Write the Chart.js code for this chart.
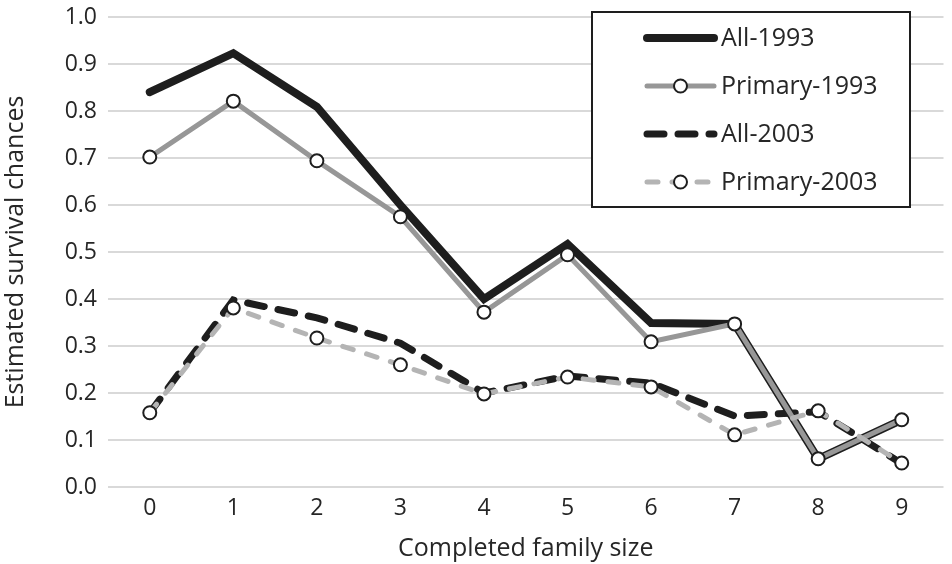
<!DOCTYPE html>
<html>
<head>
<meta charset="utf-8">
<script src="https://cdn.jsdelivr.net/npm/chart.js@4"></script>
<style>
html,body{margin:0;padding:0;background:#fff;}
#wrap{width:952px;height:564px;position:relative;}
</style>
</head>
<body>
<div id="wrap"><canvas id="c" width="952" height="564"></canvas></div>
<script>
const categories = ['0','1','2','3','4','5','6','7','8','9'];
const all1993     = [0.840, 0.923, 0.809, 0.600, 0.400, 0.517, 0.349, 0.347, 0.060, 0.143];
const primary1993 = [0.702, 0.821, 0.694, 0.575, 0.372, 0.494, 0.309, 0.347, 0.060, 0.143];
const all2003     = [0.158, 0.398, 0.360, 0.306, 0.200, 0.236, 0.221, 0.151, 0.160, 0.050];
const primary2003 = [0.158, 0.381, 0.317, 0.260, 0.198, 0.234, 0.213, 0.111, 0.162, 0.051];
const yTicks = [0,0.1,0.2,0.3,0.4,0.5,0.6,0.7,0.8,0.9,1.0];

const FONT = "'Open Sans', 'Noto Sans', sans-serif";
const TXT = '#262626';

const datasets = [
  { label:'All-1993', data:all1993, borderColor:'#1e1e1e', borderWidth:8, pointRadius:0,
    borderCapStyle:'round', borderJoinStyle:'miter', order:4, legendMarker:false },
  { label:'Primary-1993', data:primary1993, borderColor:'#979797', borderWidth:5,
    pointRadius:6.5, pointBorderWidth:2, pointBackgroundColor:'#fff', pointBorderColor:'#1e1e1e',
    borderCapStyle:'round', order:2, legendMarker:true },
  { label:'All-2003', data:all2003, borderColor:'#1e1e1e', borderWidth:7, pointRadius:0,
    borderDash:[17,14], borderCapStyle:'round', order:3, legendMarker:false },
  { label:'Primary-2003', data:primary2003, borderColor:'#b4b4b4', borderWidth:5,
    pointRadius:6.5, pointBorderWidth:2, pointBackgroundColor:'#fff', pointBorderColor:'#1e1e1e',
    borderDash:[11,14], borderCapStyle:'round', order:1, legendMarker:true }
];

const legendPlugin = {
  id:'boxLegend',
  afterDraw(chart){
    const ctx = chart.ctx;
    const bx = 592, by = 12, bw = 318, bh = 195;
    ctx.save();
    ctx.fillStyle = '#fff';
    ctx.fillRect(bx, by, bw, bh);
    ctx.strokeStyle = '#1e1e1e';
    ctx.lineWidth = 2;
    ctx.strokeRect(bx, by, bw, bh);
    const rows = [38, 86, 134, 182];
    const x0 = 647, x1 = 714;
    chart.data.datasets.forEach((ds, i) => {
      const y = rows[i];
      ctx.save();
      ctx.strokeStyle = ds.borderColor;
      ctx.lineWidth = ds.borderWidth;
      ctx.lineCap = 'round';
      ctx.setLineDash(ds.borderDash || []);
      ctx.beginPath();
      ctx.moveTo(x0, y);
      ctx.lineTo(x1, y);
      ctx.stroke();
      ctx.restore();
      if (ds.legendMarker) {
        ctx.beginPath();
        ctx.arc((x0+x1)/2, y, ds.pointRadius, 0, Math.PI*2);
        ctx.fillStyle = ds.pointBackgroundColor;
        ctx.fill();
        ctx.lineWidth = ds.pointBorderWidth;
        ctx.strokeStyle = ds.pointBorderColor;
        ctx.stroke();
      }
      ctx.fillStyle = TXT;
      ctx.font = "25px " + FONT;
      ctx.textBaseline = 'middle';
      ctx.textAlign = 'left';
      ctx.fillText(ds.label, 721, y + 1);
    });
    ctx.restore();
  }
};

new Chart(document.getElementById('c'), {
  type:'line',
  data:{ labels:categories, datasets:datasets },
  options:{
    responsive:false,
    animation:false,
    devicePixelRatio:1,
    layout:{ padding:{ top:17, right:7, left:0, bottom:0 } },
    plugins:{ legend:{display:false}, tooltip:{enabled:false} },
    elements:{ line:{ tension:0 } },
    scales:{
      x:{
        offset:true,
        grid:{ display:false },
        border:{ display:false },
        ticks:{ color:TXT, font:{ family:FONT, size:23 }, padding:0 },
        title:{ display:true, text:'Completed family size', color:TXT,
                font:{ family:FONT, size:25 }, padding:{top:4, bottom:0} },
        afterFit(s){ s.height = 77; s.paddingLeft = 0; s.paddingRight = 0; }
      },
      y:{
        min:0, max:1,
        afterBuildTicks(s){ s.ticks = yTicks.map(v => ({value:v})); },
        grid:{ color:'#d9d9d9', lineWidth:2, drawTicks:false },
        border:{ display:false },
        ticks:{ color:TXT, font:{ family:FONT, size:23 }, padding:11,
                callback:(v) => Number(v).toFixed(1) },
        title:{ display:true, text:'Estimated survival chances', color:TXT,
                font:{ family:FONT, size:25 }, padding:{top:1, bottom:0} },
        afterFit(s){ s.width = 108; s.paddingTop = 0; s.paddingBottom = 0; }
      }
    }
  },
  plugins:[legendPlugin]
});
</script>
</body>
</html>
